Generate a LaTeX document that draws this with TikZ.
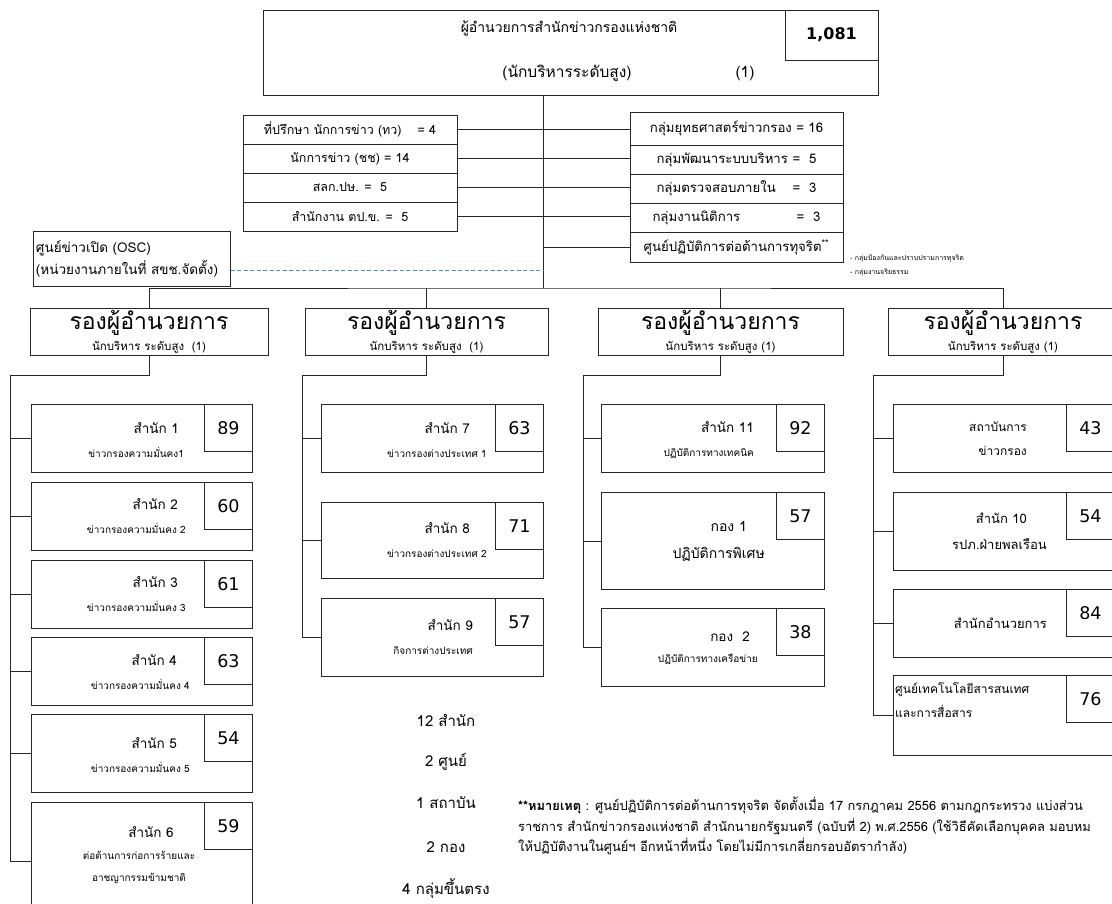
\documentclass[tikz,border=0pt]{standalone}
\usepackage{fontspec}
\setmainfont{Loma}[Script=Thai]
\newfontfamily\numfont{DejaVu Sans}
\usepackage{xcolor}
\usepackage{tikz}
\usetikzlibrary{positioning,calc}
\definecolor{cLine}{HTML}{262626}
\definecolor{cDash}{HTML}{4A8FD6}
\tikzset{
  box/.style   = {rectangle, draw=cLine, line width=0.9pt, inner sep=0pt, align=center},
  unit/.style  = {box, minimum width=221pt, anchor=north west},
  num/.style   = {box, minimum width=48pt, minimum height=47pt, anchor=north east,
                  font=\numfont\fontsize{17.5}{18}\selectfont},
  dep/.style   = {box, minimum height=47pt, font=\fontsize{11.5}{21}\selectfont},
  lrow/.style  = {box, minimum width=214pt, minimum height=29pt, font=\fontsize{12.5}{14}\selectfont},
  rrow/.style  = {box, minimum width=213pt, font=\fontsize{13.2}{15}\selectfont},
  utxt/.style  = {inner sep=0pt, font=\fontsize{13.5}{24}\selectfont},
  ln/.style    = {draw=cLine, line width=0.9pt},
  dsh/.style   = {draw=cDash, line width=0.9pt, dash pattern=on 4pt off 2.5pt},
  tot/.style   = {inner sep=0pt, font=\fontsize{15}{17}\selectfont},
  tiny/.style  = {inner sep=0pt, anchor=west, font=\fontsize{7}{8}\selectfont},
}
\newcommand{\subt}[1]{{\fontsize{10}{24}\selectfont #1}}
\newcommand{\depbig}[1]{{\fontsize{23}{21}\selectfont #1}}

\begin{document}
\begin{tikzpicture}[x=1pt, y=-1pt]
  \useasboundingbox (0,0) rectangle (1112,903);

  \node[box, minimum width=615pt, minimum height=85pt] (dir) at (570.5,52.5) {};
  \node[num, minimum width=93pt, minimum height=50pt, font=\numfont\bfseries\fontsize{16}{16}\selectfont] (n0) at (dir.north east) {1,081};
  \node[inner sep=0pt, font=\fontsize{14}{16}\selectfont] (dirt) at (569,28) {ผู้อำนวยการสำนักข่าวกรองแห่งชาติ};
  \node[inner sep=0pt, font=\fontsize{15.5}{17}\selectfont] (dirs) at (567,73) {(นักบริหารระดับสูง)};
  \node[inner sep=0pt, font=\fontsize{15.5}{17}\selectfont] (dirn) at (745,73) {(1)};

  \node[lrow] (l1) at (350,129.5) {ที่ปรึกษา นักการข่าว (ทว)\hspace{16pt}= 4};
  \node[lrow] (l2) at (350,158.5) {นักการข่าว (ชช) = 14};
  \node[lrow] (l3) at (350,187.5) {สลก.ปษ. = ~5};
  \node[lrow] (l4) at (350,216.5) {สำนักงาน ตป.ข. = ~5};

  \node[rrow, minimum height=33pt] (r1) at (736.5,128.5) {กลุ่มยุทธศาสตร์ข่าวกรอง = 16};
  \node[rrow, minimum height=29pt] (r2) at (736.5,159.5) {\makebox[160pt]{กลุ่มพัฒนาระบบบริหาร\hfill= ~5}};
  \node[rrow, minimum height=29pt] (r3) at (736.5,188.5) {\makebox[160pt]{กลุ่มตรวจสอบภายใน\hfill= ~3}};
  \node[rrow, minimum height=29pt] (r4) at (736.5,217.5) {\makebox[168pt]{กลุ่มงานนิติการ\hfill= ~3}};
  \node[rrow, minimum height=30pt] (r5) at (736.5,247) {ศูนย์ปฏิบัติการต่อต้านการทุจริต\textsuperscript{**}};
  \node[tiny] (nt1) at (850,258) {- กลุ่มป้องกันและปราบปรามการทุจริต};
  \node[tiny] (nt2) at (850,273) {- กลุ่มงานจริยธรรม};

  \node[box, anchor=north west, align=left, text width=192pt, inner xsep=2.5pt, minimum height=55pt,
        font=\fontsize{13.5}{22}\selectfont] (osc) at (33,231) {ศูนย์ข่าวเปิด (OSC)\\(หน่วยงานภายในที่ สขช.จัดตั้ง)};

  \node[dep, minimum width=238pt] (d1) at (149,331.5) {\depbig{รองผู้อำนวยการ}\\นักบริหาร ระดับสูง~~(1)};
  \node[dep, minimum width=243pt] (d2) at (426.5,331.5) {\depbig{รองผู้อำนวยการ}\\นักบริหาร ระดับสูง~~(1)};
  \node[dep, minimum width=245pt] (d3) at (720.5,331.5) {\depbig{รองผู้อำนวยการ}\\นักบริหาร ระดับสูง (1)};
  \node[dep, minimum width=230pt] (d4) at (1003,331.5) {\depbig{รองผู้อำนวยการ}\\นักบริหาร ระดับสูง (1)};

  \node[unit, minimum height=68pt] (s1) at (31,404) {};
  \node[unit, minimum height=68pt] (s2) at (31,482) {};
  \node[unit, minimum height=68pt] (s3) at (31,560) {};
  \node[unit, minimum height=68pt] (s4) at (31,637) {};
  \node[unit, minimum height=78pt] (s5) at (31,714) {};
  \node[unit, minimum height=118pt] (s6) at (31,802) {};
  \node[num] (n1) at (s1.north east) {89};
  \node[num] (n2) at (s2.north east) {60};
  \node[num] (n3) at (s3.north east) {61};
  \node[num] (n4) at (s4.north east) {63};
  \node[num] (n5) at (s5.north east) {54};
  \node[num] (n6) at (s6.north east) {59};
  \node[utxt, align=right, anchor=east] (s1t) at (184,440) {สำนัก 1\hspace*{5pt}\\\subt{ข่าวกรองความมั่นคง1}};
  \node[utxt, align=right, anchor=east] (s2t) at (186,516) {สำนัก 2\hspace*{8pt}\\\subt{ข่าวกรองความมั่นคง 2}};
  \node[utxt, align=right, anchor=east] (s3t) at (186,594) {สำนัก 3\hspace*{8pt}\\\subt{ข่าวกรองความมั่นคง 3}};
  \node[utxt, align=right, anchor=east] (s4t) at (190,672) {สำนัก 4\hspace*{13pt}\\\subt{ข่าวกรองความมั่นคง 4}};
  \node[utxt, align=right, anchor=east] (s5t) at (190,755) {สำนัก 5\hspace*{13pt}\\\subt{ข่าวกรองความมั่นคง 5}};
  \node[utxt, align=center, font=\fontsize{13.5}{22}\selectfont] (s6t) at (139,855) {\hspace*{24pt}สำนัก 6\\\subt{ต่อต้านการก่อการร้ายและ}\\\subt{อาชญากรรมข้ามชาติ}};

  \node[unit, minimum width=222pt, minimum height=68pt] (s7) at (321,404) {};
  \node[unit, minimum width=222pt, minimum height=76pt] (s8) at (321,502) {};
  \node[unit, minimum width=222pt, minimum height=78pt] (s9) at (321,598) {};
  \node[num] (n7) at (s7.north east) {63};
  \node[num] (n8) at (s8.north east) {71};
  \node[num] (n9) at (s9.north east) {57};
  \node[utxt, align=right, anchor=east] (s7t) at (487,440) {สำนัก 7\hspace*{17pt}\\\subt{ข่าวกรองต่างประเทศ 1}};
  \node[utxt, align=right, anchor=east] (s8t) at (487,540) {สำนัก 8\hspace*{17pt}\\\subt{ข่าวกรองต่างประเทศ 2}};
  \node[utxt, align=right, anchor=east] (s9t) at (473,637) {สำนัก 9\\\subt{กิจการต่างประเทศ}};

  \node[unit, minimum width=223pt, minimum height=68pt] (s11) at (601,404) {};
  \node[unit, minimum width=223pt, minimum height=97pt] (g1) at (601,492) {};
  \node[unit, minimum width=223pt, minimum height=78pt] (g2) at (601,608) {};
  \node[num] (n11) at (s11.north east) {92};
  \node[num] (ng1) at (g1.north east) {57};
  \node[num] (ng2) at (g2.north east) {38};
  \node[utxt, align=right, anchor=east] (s11t) at (754,440) {สำนัก 11\\\subt{ปฏิบัติการทางเทคนิค}};
  \node[utxt, align=right, anchor=east, font=\fontsize{14}{27}\selectfont] (g1t) at (765,541) {กอง 1\hspace*{18pt}\\ปฏิบัติการพิเศษ};
  \node[utxt, align=right, anchor=east, font=\fontsize{13.5}{21}\selectfont] (g2t) at (758,648) {กอง~~2\hspace*{8pt}\\\subt{ปฏิบัติการทางเครือข่าย}};

  \node[unit, minimum height=68pt] (inst) at (893,404) {};
  \node[unit, minimum height=78pt] (s10) at (893,492) {};
  \node[unit, minimum height=68pt] (adm) at (893,589) {};
  \node[unit, minimum height=80pt] (ict) at (893,675) {};
  \node[num] (ni) at (inst.north east) {43};
  \node[num] (n10) at (s10.north east) {54};
  \node[num] (na) at (adm.north east) {84};
  \node[num] (nc) at (ict.north east) {76};
  \node[utxt, align=right, anchor=east, font=\fontsize{12}{24}\selectfont] (instt) at (1027,439) {สถาบันการ\\ข่าวกรอง};
  \node[utxt, align=right, anchor=east, font=\fontsize{13}{26}\selectfont] (s10t) at (1047,531) {สำนัก 10\hspace*{20pt}\\รปภ.ฝ่ายพลเรือน};
  \node[utxt, anchor=east, font=\fontsize{13}{24}\selectfont] (admt) at (1047,623) {สำนักอำนวยการ};
  \node[utxt, align=left, anchor=west, font=\fontsize{12}{24}\selectfont] (ictt) at (895,700) {ศูนย์เทคโนโลยีสารสนเทศ\\และการสื่อสาร};

  \node[tot] (t1) at (446,720) {12 สำนัก};
  \node[tot] (t2) at (446,762) {2 ศูนย์};
  \node[tot] (t3) at (446,803) {1 สถาบัน};
  \node[tot] (t4) at (446,847) {2 กอง};
  \node[tot] (t5) at (446,888) {4 กลุ่มขึ้นตรง};
  \node[inner sep=0pt, anchor=north west, align=left, font=\fontsize{12.9}{20.5}\selectfont] (memo) at (518,797)
    {\textbf{**หมายเหตุ} : ศูนย์ปฏิบัติการต่อต้านการทุจริต จัดตั้งเมื่อ 17 กรกฎาคม 2556 ตามกฎกระทรวง แบ่งส่วน\\
     ราชการ สำนักข่าวกรองแห่งชาติ สำนักนายกรัฐมนตรี (ฉบับที่ 2) พ.ศ.2556 (ใช้วิธีคัดเลือกบุคคล มอบหม\\
     ให้ปฏิบัติงานในศูนย์ฯ อีกหน้าที่หนึ่ง โดยไม่มีการเกลี่ยกรอบอัตรากำลัง)};

  \coordinate (trunk) at (543,288);
  \coordinate (dashend) at (543,270);
  \coordinate (v1) at (10,375);
  \coordinate (v2) at (302,375);
  \coordinate (v3) at (583,375);
  \coordinate (v4) at (873,375);

  \draw[ln] (dir.south -| trunk) -- (trunk);
  \draw[ln] (d1.north) |- (trunk) -| (d4.north);
  \draw[ln] (d2.north) -- (d2.north |- trunk);
  \draw[ln] (d3.north) -- (d3.north |- trunk);
  \draw[ln] (l1.east) -- (l1.east -| r1.west);
  \draw[ln] (l2.east) -- (l2.east -| r2.west);
  \draw[ln] (l3.east) -- (l3.east -| r3.west);
  \draw[ln] (l4.east) -- (l4.east -| r4.west);
  \draw[ln] (r5.west) -- (r5.west -| trunk);
  \draw[dsh] (dashend -| osc.east) -- (dashend);

  \draw[ln] (d1.south) |- (v1) |- (s6.west);
  \draw[ln] (s1.west -| v1) -- (s1.west);
  \draw[ln] (s2.west -| v1) -- (s2.west);
  \draw[ln] (s3.west -| v1) -- (s3.west);
  \draw[ln] (s4.west -| v1) -- (s4.west);
  \draw[ln] (s5.west -| v1) -- (s5.west);
  \draw[ln] (d2.south) |- (v2) |- (s9.west);
  \draw[ln] (s7.west -| v2) -- (s7.west);
  \draw[ln] (s8.west -| v2) -- (s8.west);
  \draw[ln] (d3.south) |- (v3) |- (g2.west);
  \draw[ln] (s11.west -| v3) -- (s11.west);
  \draw[ln] (g1.west -| v3) -- (g1.west);
  \draw[ln] (d4.south) |- (v4) |- (ict.west);
  \draw[ln] (inst.west -| v4) -- (inst.west);
  \draw[ln] (s10.west -| v4) -- (s10.west);
  \draw[ln] (adm.west -| v4) -- (adm.west);
\end{tikzpicture}
\end{document}
